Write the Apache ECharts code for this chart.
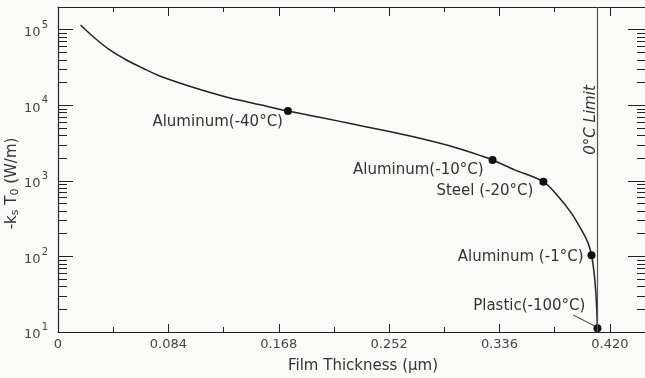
<!DOCTYPE html>
<html>
<head>
<meta charset="utf-8">
<script src="https://cdn.jsdelivr.net/npm/echarts@6/dist/echarts.min.js"></script>
<style>
html,body{margin:0;padding:0;background:#fafaf8;}
#chart{width:645px;height:378px;}
</style>
</head>
<body>
<div id="chart"></div>
<script>
// ---- data ----
const thickness = [0.0172, 0.0268, 0.0394, 0.0521, 0.0647, 0.0774, 0.1026, 0.1279, 0.1532, 0.1750,
                   0.2038, 0.2215, 0.2467, 0.2721, 0.2973, 0.3226, 0.3307, 0.3479, 0.3694, 0.3807,
                   0.3908, 0.3984, 0.4035, 0.4060, 0.4080, 0.4093, 0.4101, 0.4105];
const flux = [115600, 80900, 54000, 39800, 30900, 24400, 17300, 12900, 10250, 8400,
              6700, 5780, 4710, 3780, 2930, 2130, 1890, 1390, 975, 620,
              372, 224, 149, 104, 60, 33, 17.8, 11.2];
const markNames = ['Aluminum(-40°C)', 'Aluminum(-10°C)', 'Steel (-20°C)', 'Aluminum (-1°C)', 'Plastic(-100°C)'];
const markX = [0.175, 0.3307, 0.3694, 0.4060, 0.4105];
const markY = [8400, 1890, 975, 104, 11.2];
const limitX = 0.413;
const limitLabel = '0°C Limit';
const limitLabelY = 6400;
const leaderFrom = [0.3921, 16.8];
const leaderTo = [0.4084, 12.0];
const xMajor = [0, 0.084, 0.168, 0.252, 0.336, 0.420];
const xMinor = [0.042, 0.126, 0.210, 0.294, 0.378];
const yMajor = [10, 100, 1000, 10000, 100000];
const xName = 'Film Thickness (μm)';

// ---- presentation ----
const FONT = 'DejaVu Sans';
const INK = '#222';
const TXT = '#333';
const yMinor = [];
for (let e = 1; e <= 5; e++) for (let m = 2; m <= 9; m++) yMinor.push(m * Math.pow(10, e));
const yMinorIn = yMinor.filter(v => v < 200000);
const labelPlace = [
  {d: 1, o: [0, 11]},
  {d: 5, o: [0, 10]},
  {d: 6, o: [0, 9]},
  {d: 4, o: [0, 2]},
  {d: 8, o: [0, -22]}
];

const X_MIN = 0, X_MAX = 0.449, Y_MIN = 10, Y_MAX = 200000;

function xAx(pos, ticks, len, extra) {
  return Object.assign({
    type: 'value', min: X_MIN, max: X_MAX, position: pos,
    axisLine: {show: false, onZero: false, lineStyle: {color: INK, width: 1.2}},
    axisTick: {show: true, inside: true, length: len, customValues: ticks, lineStyle: {color: INK, width: 1}},
    axisLabel: {show: false},
    splitLine: {show: false}
  }, extra || {});
}
function yAx(pos, ticks, len, extra) {
  return Object.assign({
    type: 'log', logBase: 10, min: Y_MIN, max: Y_MAX, position: pos,
    axisLine: {show: false, onZero: false, lineStyle: {color: INK, width: 1.2}},
    axisTick: {show: true, inside: true, length: len, customValues: ticks, lineStyle: {color: INK, width: 1}},
    axisLabel: {show: false},
    splitLine: {show: false}
  }, extra || {});
}

const chart = echarts.init(document.getElementById('chart'), null, {renderer: 'canvas'});
const option = {
  backgroundColor: '#fafaf8',
  animation: false,
  grid: {left: 58, right: -3, top: 7, bottom: 46, containLabel: false, outerBoundsMode: 'none'},
  xAxis: [
    xAx('bottom', xMajor, 8, {
      axisLine: {show: true, onZero: false, lineStyle: {color: INK, width: 1.2}},
      name: xName, nameLocation: 'middle', nameGap: 27, nameMoveOverlap: false,
      nameTextStyle: {fontFamily: FONT, fontSize: 15, color: TXT, padding: [0, 0, 0, 20]},
      axisLabel: {show: true, customValues: xMajor, margin: 6, fontFamily: FONT, fontSize: 13, color: '#444',
        formatter: v => v === 0 ? '0' : v.toFixed(3)}
    }),
    xAx('bottom', xMinor, 5),
    xAx('top', xMajor, 9, {axisLine: {show: true, onZero: false, lineStyle: {color: INK, width: 1.2}}}),
    xAx('top', xMinor, 5)
  ],
  yAxis: [
    yAx('left', yMajor, 15, {
      axisLine: {show: true, onZero: false, lineStyle: {color: INK, width: 1.2}},
      name: '-k{sub|s} T{sub|0} (W/m)', nameLocation: 'middle', nameGap: 37, nameRotate: 90, nameMoveOverlap: false,
      nameTextStyle: {fontFamily: FONT, fontSize: 15, color: TXT, padding: [0, 28, 0, 0],
        rich: {sub: {fontFamily: FONT, fontSize: 11, color: TXT, verticalAlign: 'top', padding: [7, 0, 0, 0]}}},
      axisLabel: {show: true, customValues: yMajor, margin: 10,
        formatter: v => '{b|10}{s|' + Math.round(Math.log10(v)) + '}',
        rich: {
          b: {fontFamily: FONT, fontSize: 13, color: '#444', verticalAlign: 'bottom'},
          s: {fontFamily: FONT, fontSize: 10, color: '#444', verticalAlign: 'bottom', padding: [0, 0, 9, 1]}
        }}
    }),
    yAx('left', yMinorIn, 9),
    yAx('right', yMajor, 20, {axisLine: {show: true, onZero: false, lineStyle: {color: INK, width: 1.2}}}),
    yAx('right', yMinorIn, 11)
  ],
  series: [
    {
      type: 'line', xAxisIndex: 0, yAxisIndex: 0,
      data: thickness.map((x, i) => [x, flux[i]]),
      smooth: 0.3,
      showSymbol: false, symbol: 'none',
      lineStyle: {color: INK, width: 1.5},
      markLine: {
        silent: true, symbol: ['none', 'none'],
        label: {show: false},
        lineStyle: {color: '#555', width: 1.2, type: 'solid'},
        data: [{xAxis: limitX}]
      },
      z: 3
    },
    {
      type: 'scatter', xAxisIndex: 0, yAxisIndex: 0,
      symbol: 'circle', symbolSize: 8,
      itemStyle: {color: '#111', opacity: 1},
      data: markX.map((x, i) => ({
        value: [x, markY[i]], name: markNames[i],
        label: {show: true, position: 'left', distance: labelPlace[i].d, offset: labelPlace[i].o,
          formatter: '{b}', fontFamily: FONT, fontSize: 15, color: TXT}
      })),
      markLine: {
        silent: true, symbol: ['none', 'none'],
        label: {show: false},
        lineStyle: {color: '#333', width: 1, type: 'solid'},
        data: [[{coord: leaderFrom}, {coord: leaderTo}]]
      },
      z: 4
    }
  ]
};
chart.setOption(option);
// "0°C Limit" text placed beside the limit line, positioned through the axes
const lp = chart.convertToPixel({xAxisIndex: 0, yAxisIndex: 0}, [limitX, limitLabelY]);
chart.setOption({
  graphic: [{
    type: 'text', x: lp[0] - 10, y: lp[1], rotation: Math.PI / 2, silent: true,
    style: {text: limitLabel, align: 'center', verticalAlign: 'middle',
      font: 'italic 15px "DejaVu Sans"', fill: TXT}
  }]
});
</script>
</body>
</html>
